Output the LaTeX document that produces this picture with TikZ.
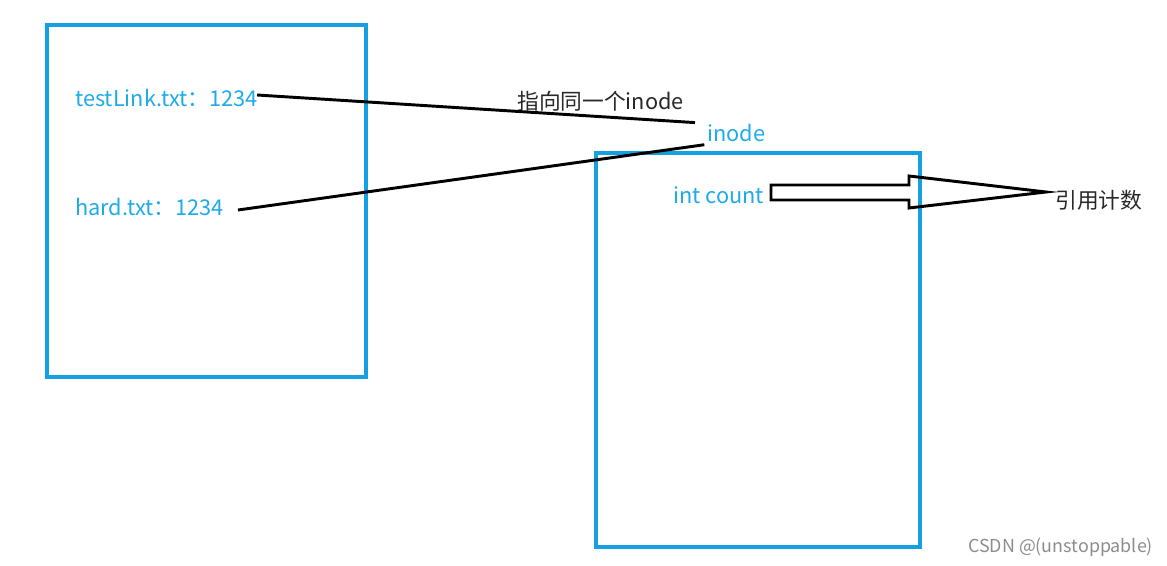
\documentclass[tikz,border=0pt]{standalone}
\usepackage{fontspec}
\setmainfont{Noto Sans CJK SC}
\definecolor{boxblue}{RGB}{20,160,225}
\definecolor{txtblue}{RGB}{30,170,235}
\definecolor{txtgray}{RGB}{40,40,40}
\tikzset{
  box/.style={draw=boxblue,line width=2.5pt},
  fname/.style={anchor=west,inner sep=0pt,text=txtblue,font=\fontsize{16.3}{16}\selectfont},
  note/.style={anchor=west,inner sep=0pt,text=txtgray,font=\fontsize{16.3}{16}\selectfont},
  link/.style={draw=black,line width=2.2pt}
}
\begin{document}
\begin{tikzpicture}[x=0.75pt,y=-0.75pt]
      \useasboundingbox (0,0) rectangle (1167,566);
      \draw[box] (47,25) rectangle (366,377);
      \draw[box] (596,153) rectangle (920,547);
      \draw
        (75,98) node[fname] (tl){testLink.txt：1234}
        (75,207) node[fname] (hd){hard.txt：1234}
        (707,133) node[fname] (in){inode}
        (673,195) node[fname] (ic){int count}
        (517,101) node[note] (lbl){指向同一个inode}
        (1055,200) node[note] (rc){引用计数}
        (968,547) node[anchor=west,inner sep=0pt,text=black!45,font=\fontsize{13.4}{13}\selectfont] (wm){CSDN @(unstoppable)};
      \coordinate (tlend) at (257,95);
      \coordinate (hdend) at (238,210);
      \begin{scope}[link]
        \draw (tlend) to ([xshift=-9pt,yshift=1pt]in.north west);
        \draw (hdend) to ([xshift=-2pt,yshift=-2pt]in.south west);
      \end{scope}
      % block arrow
      \draw[line width=2.2pt,line join=miter]
        (771,185) -- (909,185) -- (909,176) -- (1046,192)
        -- (909,208) -- (909,200) -- (771,200) -- cycle;
    \end{tikzpicture}
\end{document}
